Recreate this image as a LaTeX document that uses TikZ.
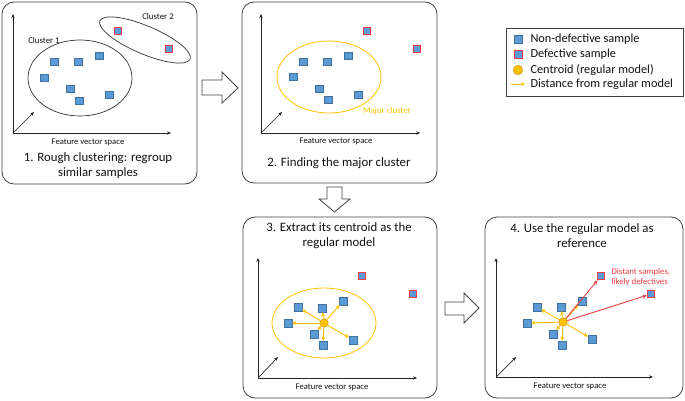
\documentclass[tikz,border=0pt]{standalone}
\usepackage{fontspec}
\setmainfont{Carlito}
\usetikzlibrary{arrows.meta}
\definecolor{sqfill}{HTML}{5B9BD5}
\definecolor{sqedge}{HTML}{41719C}
\definecolor{defedge}{HTML}{F03C46}
\definecolor{gold}{HTML}{FFC000}
\definecolor{golddark}{HTML}{C89600}
\definecolor{txt}{HTML}{111111}
\tikzset{
  okbox/.style={draw=sqedge, fill=sqfill, minimum size=7.5pt, inner sep=0pt, line width=0.5pt},
  defbox/.style={okbox, draw=defedge, line width=0.9pt},
  panel/.style={draw=black!75, rounded corners=12pt, line width=0.8pt},
  axisarr/.style={-{Stealth[length=4pt,width=3.4pt]}, line width=0.7pt, black!85},
  yarr/.style={gold, line width=0.9pt, -{Stealth[length=4.5pt,width=4pt]}},
  rarr/.style={defedge, line width=0.9pt, -{Stealth[length=4.5pt,width=4pt]}},
  blockarr/.style={draw=black!75, fill=white, line width=0.8pt},
  centroid/.style={circle, draw=golddark, fill=gold, minimum size=8.5pt, inner sep=0pt, line width=0.5pt},
  caption/.style={font=\fontsize{12.8}{15}\selectfont, text=txt, align=center},
  legtext/.style={font=\fontsize{12.3}{14}\selectfont, text=txt},
  fvs/.style={font=\fontsize{8.6}{9}\selectfont, text=txt},
  small/.style={font=\fontsize{8.8}{10}\selectfont, text=txt},
}
\begin{document}
\begin{tikzpicture}[x=1pt,y=-1pt]
\useasboundingbox (0,0) rectangle (685,401);

% ---------- Panel 1 ----------
\draw[panel] (2,2) rectangle (197,184);
\coordinate (o1) at (13,133);
\coordinate (y1) at (13,14);
\coordinate (x1) at (171,133);
\coordinate (z1) at (34,112);
\draw[axisarr] (o1) -- (y1);
\draw[axisarr] (o1) -- (x1);
\draw[axisarr] (o1) -- (z1);
\node[fvs] (f1) at (88,142) {Feature vector space};
\node[caption] (cap1) at (98,166) {1. Rough clustering: regroup\\similar samples};
\draw[black!80, line width=0.7pt] (80,78) ellipse [x radius=52, y radius=38];
\draw[black!80, line width=0.7pt, rotate around={-23:(145,40)}] (145,40) ellipse [x radius=49, y radius=14];
\node[small] (cl1) at (44,40) {Cluster 1};
\node[small] (cl2) at (158,16) {Cluster 2};
\node[okbox] (a1) at (54,62) {};
\node[okbox] (a2) at (78,62) {};
\node[okbox] (a3) at (99,56) {};
\node[okbox] (a4) at (44,78) {};
\node[okbox] (a5) at (70,89) {};
\node[okbox] (a6) at (79,101) {};
\node[okbox] (a7) at (109,95) {};
\node[defbox] (ad1) at (118,31) {};
\node[defbox] (ad2) at (169,49) {};

% ---------- Panel 2 ----------
\draw[panel] (242,2) rectangle (437,183);
\coordinate (o2) at (261,133);
\coordinate (y2) at (261,14);
\coordinate (x2) at (420,133);
\coordinate (z2) at (282,112);
\draw[axisarr] (o2) -- (y2);
\draw[axisarr] (o2) -- (x2);
\draw[axisarr] (o2) -- (z2);
\node[fvs] (f2) at (336,141) {Feature vector space};
\node[caption] (cap2) at (339,163) {2. Finding the major cluster};
\draw[gold, line width=0.8pt] (329,77) ellipse [x radius=52, y radius=36];
\node[small, text=gold] (mc) at (387,111) {Major cluster};
\node[okbox] (b1) at (303,62) {};
\node[okbox] (b2) at (327,62) {};
\node[okbox] (b3) at (348,56) {};
\node[okbox] (b4) at (293,77) {};
\node[okbox] (b5) at (319,89) {};
\node[okbox] (b6) at (328,100) {};
\node[okbox] (b7) at (358,95) {};
\node[defbox] (bd1) at (367,31) {};
\node[defbox] (bd2) at (417,49) {};

% ---------- Panel 3 ----------
\draw[panel] (243,217) rectangle (437,398);
\node[caption] (cap3) at (339,236) {3. Extract its centroid as the\\regular model};
\coordinate (o3) at (258,378);
\coordinate (y3) at (258,258);
\coordinate (x3) at (417,378);
\coordinate (z3) at (278,357);
\draw[axisarr] (o3) -- (y3);
\draw[axisarr] (o3) -- (x3);
\draw[axisarr] (o3) -- (z3);
\node[fvs] (f3) at (332,387) {Feature vector space};
\draw[gold, line width=0.8pt] (324,323) ellipse [x radius=52, y radius=35];
\node[okbox] (c1) at (298,307) {};
\node[okbox] (c2) at (322,308) {};
\node[okbox] (c3) at (343,301) {};
\node[okbox] (c4) at (288,323) {};
\node[okbox] (c5) at (314,334) {};
\node[okbox] (c6) at (323,345) {};
\node[okbox] (c7) at (353,340) {};
\node[defbox] (cd1) at (362,276) {};
\node[defbox] (cd2) at (413,294) {};
\node[centroid] (cc) at (324,323) {};
\foreach \t in {c1,c2,c3,c4,c5,c6,c7} \draw[yarr] (cc) -- (\t);

% ---------- Panel 4 ----------
\draw[panel] (485,217) rectangle (683,398);
\node[caption] (cap4) at (582,236) {4. Use the regular model as\\reference};
\coordinate (o4) at (496,377);
\coordinate (y4) at (496,258);
\coordinate (x4) at (653,377);
\coordinate (z4) at (516,357);
\draw[axisarr] (o4) -- (y4);
\draw[axisarr] (o4) -- (x4);
\draw[axisarr] (o4) -- (z4);
\node[fvs] (f4) at (570,386) {Feature vector space};
\node[okbox] (e1) at (537,307) {};
\node[okbox] (e2) at (561,307) {};
\node[okbox] (e3) at (582,301) {};
\node[okbox] (e4) at (527,323) {};
\node[okbox] (e5) at (553,334) {};
\node[okbox] (e6) at (562,345) {};
\node[okbox] (e7) at (592,339) {};
\node[defbox] (ed1) at (601,276) {};
\node[defbox] (ed2) at (651,294) {};
\node[centroid] (ec) at (563,322) {};
\foreach \t in {e1,e2,e3,e4,e5,e6,e7} \draw[yarr] (ec) -- (\t);
\draw[rarr] (ec) -- (ed1);
\draw[rarr] (ec) -- (ed2);
\node[small, text=defedge, align=left, anchor=west] (dist) at (608,277) {Distant samples,\\likely defectives};

% ---------- Block arrows ----------
\draw[blockarr] (202,80) -- (222,80) -- (222,72) -- (238,88) -- (222,103) -- (222,95) -- (202,95) -- cycle;
\draw[blockarr] (327,187) -- (342,187) -- (342,199) -- (350,199) -- (334.5,212) -- (319,199) -- (327,199) -- cycle;
\draw[blockarr] (445,302) -- (464,302) -- (464,293) -- (479,308) -- (464,323) -- (464,315) -- (445,315) -- cycle;

% ---------- Legend ----------
\draw[black!75, line width=0.8pt] (506,28) rectangle (683,96);
\node[okbox, minimum size=8pt] (l1) at (518,39) {};
\node[defbox, minimum size=8pt] (l2) at (518,54) {};
\node[centroid, minimum size=9.5pt] (l3) at (518,70) {};
\coordinate (l4a) at (511,84);
\coordinate (l4b) at (525,84);
\draw[gold, line width=0.8pt, -{Stealth[length=4pt,width=3.6pt]}] (l4a) -- (l4b);
\node[legtext, anchor=west] (t1) at (527,39) {Non-defective sample};
\node[legtext, anchor=west] (t2) at (527,54) {Defective sample};
\node[legtext, anchor=west] (t3) at (527,70) {Centroid (regular model)};
\node[legtext, anchor=west] (t4) at (527,84) {Distance from regular model};
\end{tikzpicture}
\end{document}
